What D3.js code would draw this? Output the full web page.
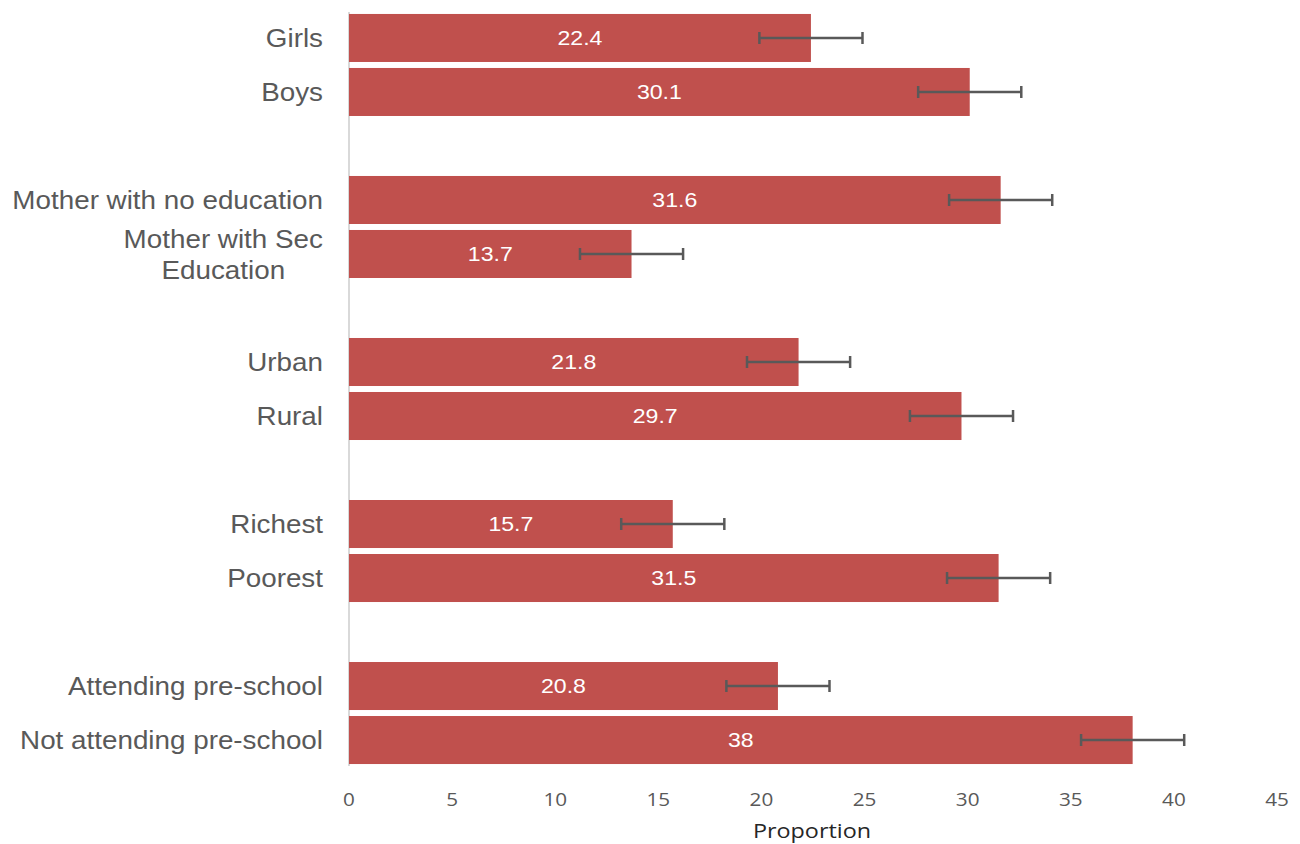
<!DOCTYPE html>
<html>
<head>
<meta charset="utf-8">
<script src="https://cdn.jsdelivr.net/npm/d3@7"></script>
<style>
  body { margin: 0; background: #fff; }
</style>
</head>
<body>
<svg id="chart" width="1300" height="844"></svg>
<script>

var categories = [
    ["Girls"], ["Boys"],
    ["Mother with no education"], ["Mother with Sec", "Education"],
    ["Urban"], ["Rural"],
    ["Richest"], ["Poorest"],
    ["Attending pre-school"], ["Not attending pre-school"]
];
var values = [22.4, 30.1, 31.6, 13.7, 21.8, 29.7, 15.7, 31.5, 20.8, 38];
var errors = [2.5, 2.5, 2.5, 2.5, 2.5, 2.5, 2.5, 2.5, 2.5, 2.5];
var xTicks = [0, 5, 10, 15, 20, 25, 30, 35, 40, 45];

var barColor = "#c0504d";
var textColor = "#595959";
var sansA = "'Liberation Sans', Arial, sans-serif";
var sansB = "'Open Sans', sans-serif";

var svg = d3.select("#chart");

// two bars per group, then an empty slot between groups
var slotOf = function(i) { return i + Math.floor(i / 2); };

var x = d3.scaleLinear().domain([0, 45]).range([349, 1277]);
var y = d3.scaleBand()
    .domain(d3.range(14))
    .range([11, 767])
    .paddingInner(0.111)
    .paddingOuter(0.055);

var rows = values.map(function(v, i) {
    return { label: categories[i], value: v, err: errors[i], slot: slotOf(i) };
});

function mid(d) { return y(d.slot) + y.bandwidth() / 2; }

// text placed at (px, py), stretched a little sideways like the original
function stretched(sel, px, py, sx) {
    return sel.attr("transform", "translate(" + px + "," + py + ") scale(" + sx + ",1)");
}

// axis line
svg.append("line")
    .attr("x1", x(0)).attr("x2", x(0))
    .attr("y1", 12).attr("y2", 766)
    .attr("stroke", "#d9d9d9")
    .attr("stroke-width", 2);

// bars
svg.selectAll("rect.bar")
    .data(rows)
    .enter().append("rect")
    .attr("class", "bar")
    .attr("x", x(0))
    .attr("y", function(d) { return y(d.slot); })
    .attr("width", function(d) { return x(d.value) - x(0); })
    .attr("height", y.bandwidth())
    .attr("fill", barColor);

// value labels
rows.forEach(function(d) {
    var t = svg.append("text")
        .attr("dy", "0.35em")
        .attr("text-anchor", "middle")
        .attr("fill", "#fff")
        .style("font-family", sansA)
        .style("font-size", "21px")
        .text(d.value);
    stretched(t, (x(0) + x(d.value)) / 2, mid(d), 1.1);
});

// error bars
var eb = svg.selectAll("g.err")
    .data(rows)
    .enter().append("g")
    .attr("class", "err")
    .attr("stroke", "#595959")
    .attr("stroke-width", 2.5);

eb.append("line")
    .attr("x1", function(d) { return x(d.value - d.err); })
    .attr("x2", function(d) { return x(d.value + d.err); })
    .attr("y1", mid)
    .attr("y2", mid);

[-1, 1].forEach(function(s) {
    eb.append("line")
        .attr("x1", function(d) { return x(d.value + s * d.err); })
        .attr("x2", function(d) { return x(d.value + s * d.err); })
        .attr("y1", function(d) { return mid(d) - 6; })
        .attr("y2", function(d) { return mid(d) + 6; });
});

// category labels
var labelRight = 323;
var labelScale = 1.07;
rows.forEach(function(d) {
    var n = d.label.length;
    var t = svg.append("text")
        .attr("fill", textColor)
        .style("font-family", sansA)
        .style("font-size", "26px");
    var spans = d.label.map(function(line, k) {
        return t.append("tspan")
            .attr("x", 0)
            .attr("y", (k - (n - 1) / 2) * 31)
            .attr("dy", "0.35em")
            .text(line);
    });
    if (n === 1) {
        t.attr("text-anchor", "end");
        stretched(t, labelRight, mid(d), labelScale);
    } else {
        var w = d3.max(spans, function(s) { return s.node().getComputedTextLength(); });
        t.attr("text-anchor", "middle");
        stretched(t, labelRight - w * labelScale / 2, mid(d), labelScale);
    }
});

// x axis tick labels
xTicks.forEach(function(v) {
    var t = svg.append("text")
        .attr("dy", "0.35em")
        .attr("text-anchor", "middle")
        .attr("fill", textColor)
        .style("font-family", sansB)
        .style("font-size", "18px")
        .text(v);
    stretched(t, x(v), 800, 1.15);
});

var title = svg.append("text")
    .attr("dy", "0.35em")
    .attr("text-anchor", "middle")
    .attr("fill", "#262626")
    .style("font-family", sansB)
    .style("font-size", "20.5px")
    .text("Proportion");
stretched(title, 812, 831, 1.14);

</script>
</body>
</html>
